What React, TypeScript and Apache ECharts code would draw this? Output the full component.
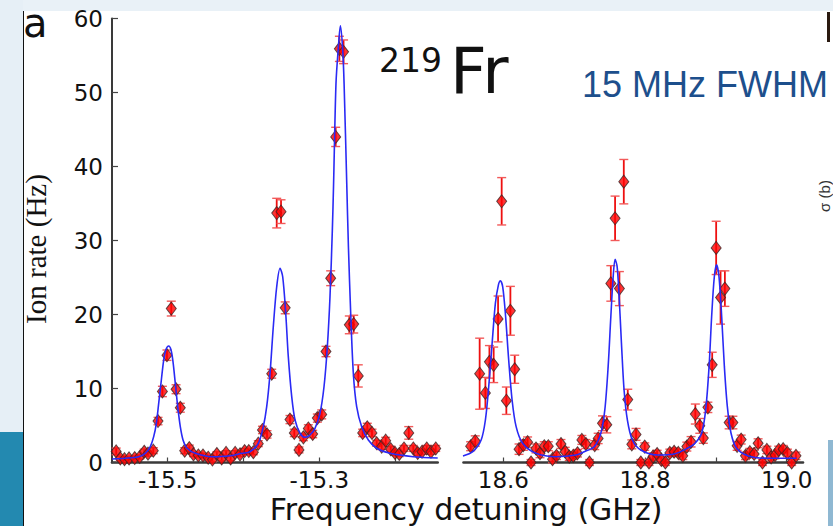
import React, { useEffect, useRef } from "react";
import * as echarts from "echarts";

// ---- data ----
const leftFreq = [-15.568, -15.5625, -15.557, -15.551, -15.5435, -15.537, -15.531, -15.526, -15.519, -15.5128, -15.507, -15.501, -15.4953, -15.489, -15.4834, -15.4776, -15.4715, -15.466, -15.4596, -15.4535, -15.4466, -15.441, -15.4352, -15.4288, -15.423, -15.417, -15.411, -15.4046, -15.3985, -15.393, -15.387, -15.3805, -15.375, -15.369, -15.3628, -15.3562, -15.3505, -15.345, -15.3387, -15.333, -15.3268, -15.321, -15.3145, -15.3087, -15.3026, -15.2968, -15.2912, -15.285, -15.2784, -15.2735, -15.268, -15.2604, -15.2546, -15.2486, -15.2428, -15.2367, -15.2305, -15.2243, -15.2177, -15.2124, -15.2058, -15.2001, -15.1945, -15.1883, -15.182, -15.176, -15.1702, -15.1645, -15.1583, -15.1527, -15.1464];
const leftRate = [1.5, 0.55, 0.45, 0.55, 0.6, 0.75, 1.45, 1.2, 1.6, 5.6, 9.6, 14.5, 20.8, 9.9, 7.4, 1.6, 1.95, 1.1, 0.95, 0.95, 0.65, 0.4, 1.15, 0.55, 1.3, 0.55, 1.3, 1.1, 1.55, 1.55, 1.4, 2.55, 4.4, 3.8, 12.0, 33.7, 33.9, 20.9, 5.8, 4.0, 1.7, 3.4, 4.6, 3.85, 6.0, 6.5, 15.0, 24.9, 44.0, 55.9, 55.5, 18.6, 18.7, 11.7, 4.0, 4.75, 4.0, 2.6, 2.15, 2.95, 1.8, 1.3, 1.15, 1.9, 4.0, 1.9, 1.3, 1.45, 1.9, 1.45, 1.9];
const leftErr = [0.45, 0.3, 0.3, 0.3, 0.3, 0.3, 0.35, 0.35, 0.4, 0.5, 0.7, 0.7, 1.0, 0.6, 0.6, 0.4, 0.4, 0.3, 0.3, 0.3, 0.3, 0.3, 0.3, 0.3, 0.3, 0.3, 0.3, 0.3, 0.35, 0.35, 0.35, 0.4, 0.5, 0.5, 0.6, 2.0, 1.6, 0.8, 0.55, 0.5, 0.4, 0.45, 0.5, 0.5, 0.55, 0.6, 0.7, 1.0, 1.3, 1.7, 1.6, 1.2, 1.2, 1.5, 0.5, 0.55, 0.5, 0.4, 0.4, 0.45, 0.4, 0.35, 0.35, 0.4, 0.85, 0.4, 0.35, 0.35, 0.4, 0.35, 0.4];

const rightFreq = [18.5538, 18.5603, 18.5665, 18.5746, 18.5803, 18.5863, 18.5925, 18.5976, 18.6042, 18.6099, 18.616, 18.6221, 18.6282, 18.6342, 18.639, 18.646, 18.6517, 18.6577, 18.6634, 18.6694, 18.675, 18.6813, 18.6873, 18.693, 18.6986, 18.7046, 18.7108, 18.7165, 18.7215, 18.729, 18.7338, 18.7399, 18.746, 18.7517, 18.7577, 18.7638, 18.77, 18.7756, 18.7813, 18.7873, 18.794, 18.7996, 18.8056, 18.8113, 18.817, 18.823, 18.8287, 18.835, 18.841, 18.847, 18.8533, 18.859, 18.865, 18.871, 18.8773, 18.8823, 18.8887, 18.8948, 18.9004, 18.9066, 18.9127, 18.9187, 18.924, 18.93, 18.9357, 18.9418, 18.948, 18.954, 18.9596, 18.9658, 18.972, 18.978, 18.9835, 18.9887, 18.995, 19.001, 19.007, 19.0131];
const rightRate = [2.2, 2.9, 12.0, 9.4, 13.6, 13.2, 19.4, 35.3, 8.35, 20.5, 12.6, 1.8, 2.35, 2.75, 0.0, 1.9, 1.25, 2.2, 2.2, 0.45, 0.9, 2.5, 1.45, 0.8, 0.9, 1.25, 3.05, 2.5, 0.0, 2.35, 3.25, 5.3, 5.1, 24.2, 33.0, 23.5, 37.95, 8.5, 2.45, 3.8, 0.0, 2.15, 0.0, 0.8, 1.15, 0.35, 0.0, 1.3, 1.45, 1.3, 0.9, 2.15, 2.8, 6.55, 4.95, 3.3, 7.45, 13.2, 29.0, 22.3, 23.5, 5.4, 5.4, 2.25, 3.1, 0.9, 1.4, 1.15, 2.6, 0.0, 1.7, 0.7, 1.0, 1.7, 1.8, 1.3, 0.0, 0.9];
const rightErr = [0.6, 0.7, 4.8, 2.1, 2.2, 2.4, 3.1, 3.2, 1.85, 3.3, 1.9, 0.7, 0.7, 0.7, 0.4, 0.6, 0.6, 0.6, 0.6, 0.5, 0.5, 0.6, 0.6, 0.5, 0.5, 0.5, 0.6, 0.6, 0.4, 0.6, 0.7, 1.0, 1.1, 2.4, 3.0, 2.3, 3.0, 1.4, 0.6, 0.8, 0.4, 0.5, 0.4, 0.5, 0.5, 0.4, 0.4, 0.5, 0.5, 0.5, 0.5, 0.6, 0.7, 1.35, 1.0, 0.7, 0.7, 1.7, 3.6, 3.6, 2.4, 0.85, 0.85, 0.6, 0.6, 0.5, 0.5, 0.5, 0.6, 0.4, 0.5, 0.5, 0.5, 0.5, 0.5, 0.5, 0.4, 0.5];

// fitted line shape
const leftFitFreq = [-15.5734, -15.556, -15.5383, -15.5296, -15.523, -15.5185, -15.515, -15.5119, -15.5084, -15.5053, -15.5022, -15.4987, -15.4956, -15.493, -15.49, -15.4868, -15.4834, -15.4798, -15.4745, -15.4636, -15.4416, -15.4195, -15.402, -15.3914, -15.3805, -15.3739, -15.3694, -15.365, -15.3607, -15.3562, -15.3518, -15.3483, -15.3443, -15.3409, -15.3364, -15.332, -15.3254, -15.3189, -15.3123, -15.3057, -15.2991, -15.2938, -15.2894, -15.2859, -15.2828, -15.2812, -15.278, -15.275, -15.2722, -15.2692, -15.2673, -15.2638, -15.2616, -15.2586, -15.2551, -15.2507, -15.2441, -15.2353, -15.2243, -15.2067, -15.1759, -15.1438];
const leftFitRate = [0.47, 0.57, 0.78, 1.24, 2.14, 3.49, 5.3, 8.0, 11.15, 13.85, 15.3, 15.74, 15.2, 13.6, 10.7, 7.54, 4.84, 3.04, 1.92, 1.24, 0.78, 0.88, 1.24, 1.46, 2.6, 4.84, 7.54, 12.05, 18.35, 23.75, 26.24, 25.1, 20.16, 14.3, 8.9, 5.74, 3.95, 3.4, 3.72, 4.62, 6.65, 10.24, 15.65, 22.4, 31.4, 37.5, 51.2, 55.9, 59.0, 55.9, 51.2, 37.7, 29.2, 20.2, 12.05, 7.54, 4.84, 3.04, 1.92, 1.24, 0.78, 0.6];
const rightFitFreq = [18.543, 18.5568, 18.5686, 18.5746, 18.5793, 18.5841, 18.5887, 18.593, 18.5958, 18.599, 18.6028, 18.6075, 18.6123, 18.618, 18.6272, 18.646, 18.6742, 18.7024, 18.7141, 18.7282, 18.7376, 18.7432, 18.7479, 18.7517, 18.755, 18.7577, 18.7606, 18.7634, 18.7667, 18.7704, 18.7751, 18.7821, 18.794, 18.8174, 18.841, 18.8597, 18.8705, 18.8799, 18.8856, 18.8904, 18.894, 18.8978, 18.901, 18.9044, 18.9082, 18.912, 18.9162, 18.9214, 18.9293, 18.9458, 18.974, 19.0138];
const rightFitRate = [0.88, 1.46, 3.04, 5.74, 10.24, 16.1, 21.5, 24.0, 24.57, 23.76, 20.16, 13.85, 8.45, 4.84, 2.6, 1.24, 0.78, 1.01, 1.46, 2.14, 3.95, 7.1, 12.95, 19.7, 25.1, 27.46, 26.46, 22.4, 16.1, 9.8, 5.74, 3.04, 1.69, 1.01, 1.15, 1.92, 2.6, 3.95, 7.1, 12.95, 19.7, 25.1, 26.7, 25.1, 19.7, 12.95, 7.54, 3.95, 1.92, 0.88, 0.57, 0.57];

const leftTicks = [-15.5, -15.4, -15.3, -15.2];
const leftTickLabels = [-15.5, -15.3];
const rightTicks = [18.6, 18.7, 18.8, 18.9, 19.0];
const rightTickLabels = [18.6, 18.8, 19.0];
const yMin = 0;
const yMax = 60;
const yStep = 10;

const zip3 = (a: number[], b: number[], c: number[]) => a.map((v, i) => [v, b[i], c[i]]);
const zip2 = (a: number[], b: number[]) => a.map((v, i) => [v, b[i]]);

const FONT = "DejaVu Sans";

function errorBarRender(params: any, api: any) {
  const x = api.value(0);
  const y = api.value(1);
  const e = api.value(2);
  const top = api.coord([x, y + e]);
  const bot = api.coord([x, y - e]);
  const hw = 4.5;
  return {
    type: "group",
    children: [
      { type: "line", shape: { x1: top[0], y1: top[1], x2: bot[0], y2: bot[1] }, style: { stroke: "#ee1010", lineWidth: 1.8 } },
      { type: "line", shape: { x1: top[0] - hw, y1: top[1], x2: top[0] + hw, y2: top[1] }, style: { stroke: "#f25a5a", lineWidth: 1.4 } },
      { type: "line", shape: { x1: bot[0] - hw, y1: bot[1], x2: bot[0] + hw, y2: bot[1] }, style: { stroke: "#f25a5a", lineWidth: 1.4 } },
    ],
  };
}

function xAxisFor(grid: number, min: number, max: number, ticks: number[], labels: number[]) {
  return {
    type: "value",
    gridIndex: grid,
    min,
    max,
    axisLine: { show: true, onZero: false, lineStyle: { color: "#3a3a3a", width: 2.6 } },
    axisTick: { show: true, inside: true, length: 5, customValues: ticks, lineStyle: { color: "#444", width: 1.2 } },
    axisLabel: {
      show: true,
      customValues: labels,
      formatter: (v: number) => v.toFixed(1),
      fontFamily: FONT,
      fontSize: 23,
      lineHeight: 23,
      color: "#111",
      margin: 6,
    },
    splitLine: { show: false },
  };
}

export default function App() {
  const ref = useRef<HTMLDivElement>(null);
  useEffect(() => {
    document.body.style.margin = "0";
    const chart = echarts.init(ref.current!, null, { renderer: "svg" });
    const scatterStyle = {
      symbol: "diamond",
      symbolSize: [10, 13],
      itemStyle: { color: "#ff0000", borderColor: "#3b2626", borderWidth: 1 },
    };
    const lineStyle = { color: "#2a2af5", width: 1.6 };
    chart.setOption({
      animation: false,
      backgroundColor: "#ffffff",
      grid: [
        { left: 112, top: 18.5, width: 325.7, height: 444 },
        { left: 463.5, top: 18.5, width: 339.5, height: 444 },
      ],
      xAxis: [
        xAxisFor(0, -15.5735, -15.1438, leftTicks, leftTickLabels),
        xAxisFor(1, 18.5437, 19.023, rightTicks, rightTickLabels),
      ],
      yAxis: [
        {
          type: "value",
          gridIndex: 0,
          min: yMin,
          max: yMax,
          interval: yStep,
          axisLine: { show: true, lineStyle: { color: "#3a3a3a", width: 2 } },
          axisTick: { show: true, inside: true, length: 6, lineStyle: { color: "#444", width: 1.2 } },
          axisLabel: { fontFamily: FONT, fontSize: 23, color: "#111", margin: 9 },
          splitLine: { show: false },
        },
        { type: "value", gridIndex: 1, min: yMin, max: yMax, interval: yStep, show: false, splitLine: { show: false } },
      ],
      graphic: [
        { type: "rect", z: -10, shape: { x: 0, y: 0, width: 833, height: 11 }, style: { fill: "#e9f1f7" } },
        { type: "rect", z: -10, shape: { x: 0, y: 0, width: 23, height: 526 }, style: { fill: "#e6eff6" } },
        { type: "rect", z: -9, shape: { x: 0, y: 432, width: 23, height: 94 }, style: { fill: "#2389b0" } },
        { type: "rect", z: -9, shape: { x: 828, y: 440, width: 5, height: 86 }, style: { fill: "#8fb8d2" } },
        { type: "line", z: -8, shape: { x1: 23.5, y1: 11, x2: 23.5, y2: 526 }, style: { stroke: "#111", lineWidth: 1 } },
        { type: "rect", z: -8, shape: { x: 827, y: 12, width: 3, height: 30 }, style: { fill: "#2a1a10" } },
        { type: "text", x: 23, y: 23, style: { text: "a", font: `40px '${FONT}'`, fill: "#111", align: "left", verticalAlign: "middle" } },
        { type: "text", x: 379, y: 60, style: { text: "219", font: `33px '${FONT}'`, fill: "#111", align: "left", verticalAlign: "middle" } },
        { type: "text", x: 450, y: 71, style: { text: "Fr", font: `64px '${FONT}'`, fill: "#111", align: "left", verticalAlign: "middle" } },
        { type: "text", x: 582, y: 84, style: { text: "15 MHz FWHM", font: "36px 'Liberation Sans'", fill: "#1d4f8c", align: "left", verticalAlign: "middle" } },
        { type: "text", x: 36, y: 249, rotation: Math.PI / 2, style: { text: "Ion rate (Hz)", font: "29px 'Liberation Serif'", fill: "#111", align: "center", verticalAlign: "middle" } },
        { type: "text", x: 466, y: 509, style: { text: "Frequency detuning (GHz)", font: `30px '${FONT}'`, fill: "#111", align: "center", verticalAlign: "middle" } },
        { type: "text", x: 824, y: 196, rotation: Math.PI / 2, style: { text: "σ (b)", font: "15px 'Liberation Sans'", fill: "#333", align: "center", verticalAlign: "middle" } },
      ],
      series: [
        { type: "custom", xAxisIndex: 0, yAxisIndex: 0, renderItem: errorBarRender, encode: { x: 0, y: 1 }, data: zip3(leftFreq, leftRate, leftErr), z: 2, silent: true },
        { type: "scatter", xAxisIndex: 0, yAxisIndex: 0, data: zip2(leftFreq, leftRate), z: 3, ...scatterStyle },
        { type: "line", xAxisIndex: 0, yAxisIndex: 0, data: zip2(leftFitFreq, leftFitRate), showSymbol: false, smooth: 0.3, lineStyle, z: 4 },
        { type: "custom", xAxisIndex: 1, yAxisIndex: 1, renderItem: errorBarRender, encode: { x: 0, y: 1 }, data: zip3(rightFreq, rightRate, rightErr), z: 2, silent: true },
        { type: "scatter", xAxisIndex: 1, yAxisIndex: 1, data: zip2(rightFreq, rightRate), z: 3, ...scatterStyle },
        { type: "line", xAxisIndex: 1, yAxisIndex: 1, data: zip2(rightFitFreq, rightFitRate), showSymbol: false, smooth: 0.3, lineStyle, z: 4 },
      ],
    });
    return () => chart.dispose();
  }, []);
  return <div ref={ref} style={{ width: 833, height: 526 }} />;
}
